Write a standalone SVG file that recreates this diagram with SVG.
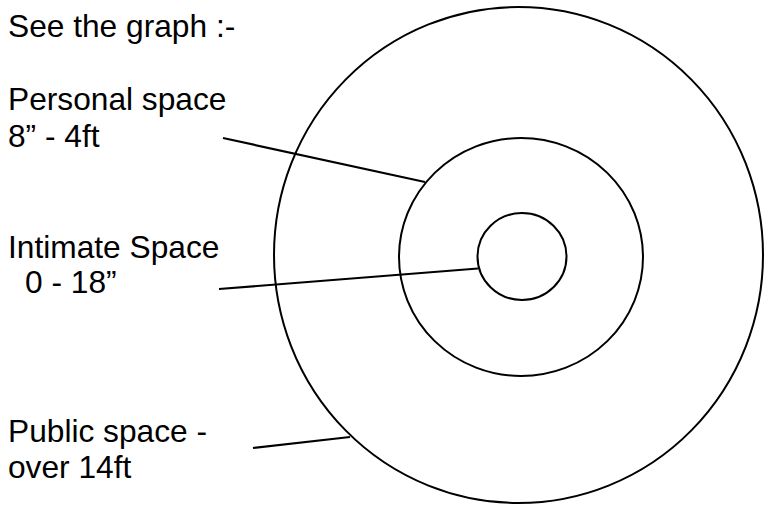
<svg xmlns="http://www.w3.org/2000/svg" width="764" height="505" viewBox="0 0 764 505">
<style>
.t{font-family:"Liberation Sans",Arial,sans-serif;font-size:31.7px;fill:#000}
.c{fill:none;stroke:#000;stroke-width:2}
.l{fill:none;stroke:#000;stroke-width:2.2}
</style>
<rect width="764" height="505" fill="#fff"/>
<text class="t" x="8" y="36.5">See the graph :-</text>
<g id="outer"><ellipse class="c" cx="518.5" cy="255" rx="244.5" ry="248"/></g>
<g id="middle"><ellipse class="c" cx="521" cy="257" rx="122" ry="119"/></g>
<g id="inner"><ellipse class="c" cx="522" cy="256.5" rx="44.5" ry="43.5"/></g>
<g id="label-personal"><text class="t" x="8" y="110">Personal space</text><text class="t" x="8" y="146.5">8” - 4ft</text></g>
<g id="label-intimate"><text class="t" x="8" y="258">Intimate Space</text><text class="t" x="25" y="292.5">0 - 18”</text></g>
<g id="label-public"><text class="t" x="8" y="441.5">Public space -</text><text class="t" x="8" y="478">over 14ft</text></g>
<g id="connectors">
<line class="l" x1="223" y1="138" x2="425" y2="182"/>
<line class="l" x1="219" y1="289" x2="478" y2="268.5"/>
<line class="l" x1="253" y1="448" x2="350" y2="437"/>
</g>
</svg>
